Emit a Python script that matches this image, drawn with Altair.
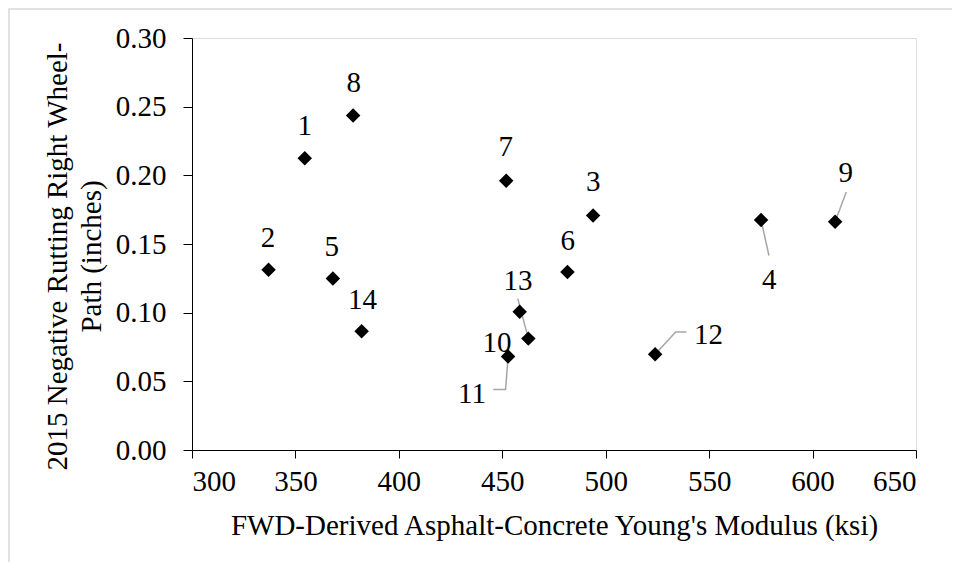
import altair as alt
import pandas as pd

# ---- data ----
section = ["1", "2", "3", "4", "5", "6", "7", "8", "9", "10", "11", "12", "13", "14"]
modulus_ksi = [354.5, 337.0, 493.9, 575.1, 368.1, 481.5, 451.9, 377.9, 610.9, 458.4, 452.8, 523.9, 462.6, 382.0]
rutting_in = [0.2125, 0.1312, 0.1707, 0.1675, 0.1248, 0.1296, 0.1961, 0.2435, 0.1662, 0.1007, 0.0681, 0.0697, 0.0811, 0.0864]

# data-label anchor positions (data units)
label_x = [354.5, 336.8, 494.0, 579.0, 367.6, 481.6, 451.7, 378.2, 616.0, 447.5, 435.4, 549.7, 457.6, 382.4]
label_y = [0.2359, 0.1545, 0.1948, 0.1237, 0.1481, 0.1524, 0.2205, 0.2669, 0.2014, 0.0782, 0.0410, 0.0840, 0.1232, 0.1095]

# leader lines: section id and bend/end points (data units), starting at the point
leader_ids = ["4", "9", "12", "11", "13"]
leader_bends_x = [[578.9], [616.3], [533.8, 539.0], [451.6, 445.6], [457.5]]
leader_bends_y = [[0.1416], [0.1878], [0.0859, 0.0859], [0.0440, 0.0440], [0.1102]]

FONT = "'Liberation Serif', 'Times New Roman', serif"
FS = 29
W, H = 724, 412

pts = pd.DataFrame({"id": section, "x": modulus_ksi, "y": rutting_in,
                    "lx": label_x, "ly": label_y})

rows = []
for lid, bx, by in zip(leader_ids, leader_bends_x, leader_bends_y):
    i = section.index(lid)
    rows.append({"id": lid, "o": 0, "x": modulus_ksi[i], "y": rutting_in[i]})
    for k, (xx, yy) in enumerate(zip(bx, by)):
        rows.append({"id": lid, "o": k + 1, "x": xx, "y": yy})
leaders = pd.DataFrame(rows)

xscale = alt.Scale(domain=[300, 650], nice=False, zero=False)
yscale = alt.Scale(domain=[0, 0.30], nice=False)

xaxis = alt.Axis(values=list(range(300, 651, 50)), grid=False, tickSize=8,
                 tickColor="black", domainColor="black", labelFont=FONT,
                 labelFontSize=FS, labelColor="black", labelPadding=9,
                 title="FWD-Derived Asphalt-Concrete Young's Modulus (ksi)",
                 titleFont=FONT, titleFontSize=FS, titleFontWeight="normal",
                 titleColor="black", titleX=W / 2, titleY=75,
                 titleBaseline="middle", titleAlign="center", zindex=1)
yaxis = alt.Axis(values=[0, 0.05, 0.10, 0.15, 0.20, 0.25, 0.30], format=".2f",
                 grid=False, tickSize=9, tickColor="black", domainColor="black",
                 labelFont=FONT, labelFontSize=FS, labelColor="black",
                 labelPadding=17,
                 title=["2015 Negative Rutting Right Wheel-", "Path (inches)"],
                 titleFont=FONT, titleFontSize=FS, titleFontWeight="normal",
                 titleColor="black", titleX=-135, titleY=218, titleAngle=270,
                 titleAlign="center", titleBaseline="middle", titleLineHeight=34,
                 zindex=1)

frame = alt.Chart(pd.DataFrame({"a": [0]})).mark_rect(
    fill="white", fillOpacity=0, stroke="#d9d9d9", strokeWidth=1.5, clip=False
).encode(x=alt.value(-183), x2=alt.value(W + 200), y=alt.value(-29), y2=alt.value(H + 200))

lines = alt.Chart(leaders).mark_line(color="#a6a6a6", strokeWidth=1.5).encode(
    x=alt.X("x:Q", scale=xscale, axis=xaxis),
    y=alt.Y("y:Q", scale=yscale, axis=yaxis),
    detail="id:N",
    order="o:Q",
)

points = alt.Chart(pts).mark_point(shape="diamond", filled=True, color="black",
                                   size=210, opacity=1).encode(
    x=alt.X("x:Q", scale=xscale),
    y=alt.Y("y:Q", scale=yscale),
)

texts = alt.Chart(pts).mark_text(font=FONT, fontSize=FS, color="black",
                                 align="center", baseline="middle").encode(
    x=alt.X("lx:Q", scale=xscale),
    y=alt.Y("ly:Q", scale=yscale),
    text="id:N",
)

chart = alt.layer(frame, lines, points, texts).properties(
    width=W, height=H,
    autosize=alt.AutoSizeParams(type="none"),
    padding={"left": 184, "top": 30, "right": 36, "bottom": 112},
    background="white",
).configure_view(stroke="black", strokeWidth=1.2).configure(font=FONT)

chart.save("out.html", embed_options={"renderer": "svg", "actions": False})
